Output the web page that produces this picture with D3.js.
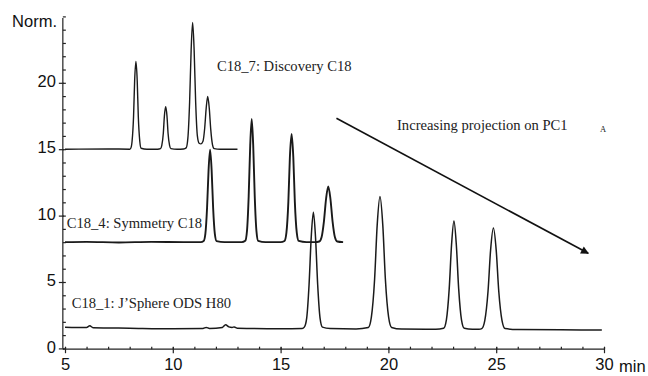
<!DOCTYPE html>
<html>
<head>
<meta charset="utf-8">
<script src="https://cdn.jsdelivr.net/npm/d3@7"></script>
<style>
  body { margin: 0; background: #fff; }
  svg { display: block; }
  .tick text { font-family: "Liberation Sans", Arial, sans-serif; font-size: 16.5px; fill: #111; }
  .note { font-family: "Liberation Serif", "Times New Roman", serif; font-size: 14.6px; fill: #222; }
</style>
</head>
<body>
<svg id="chart" width="648" height="376"></svg>
<script>
// chromatogram traces, [time (min), normalised signal]
const c18_7 = [
  [5.0,15.0],[7.0,15.02],[8.0,15.0],
  [8.05,15.07],[8.11,15.58],[8.18,17.46],[8.23,20.14],[8.29,21.6],[8.35,20.14],[8.40,17.46],[8.47,15.58],[8.53,15.07],
  [8.8,15.0],[9.3,15.0],
  [9.43,15.04],[9.49,15.28],[9.56,16.20],[9.61,17.50],[9.67,18.2],[9.73,17.50],[9.78,16.20],[9.85,15.28],[9.91,15.04],
  [10.2,15.0],[10.5,15.02],
  [10.62,15.10],[10.70,15.85],[10.78,18.56],[10.85,22.44],[10.92,24.55],[10.99,22.44],[11.06,18.56],[11.14,16.0],
  [11.22,15.45],[11.30,15.4],[11.40,15.6],[11.48,16.6],[11.55,18.11],[11.62,18.97],[11.69,18.11],[11.76,16.49],[11.84,15.35],[11.92,15.04],
  [12.2,15.0],[13.0,15.0]
];
const c18_4 = [
  [5.0,8.0],[6.0,8.02],[7.5,7.98],[9.0,8.02],[10.5,8.0],[11.3,8.0],
  [11.43,8.08],[11.51,8.62],[11.59,10.61],[11.66,13.46],[11.73,14.97],[11.80,13.46],[11.87,10.61],[11.95,8.62],[12.03,8.08],
  [12.4,8.0],[13.2,8.0],
  [13.36,8.10],[13.44,8.83],[13.52,11.48],[13.59,15.26],[13.66,17.27],[13.73,15.26],[13.80,11.48],[13.88,8.83],[13.96,8.10],
  [14.3,8.0],[15.0,8.0],
  [15.18,8.09],[15.27,8.72],[15.36,11.05],[15.43,14.37],[15.51,16.14],[15.59,14.37],[15.66,11.05],[15.75,8.72],[15.84,8.09],
  [16.2,8.0],[16.6,8.0],
  [16.79,8.05],[16.90,8.37],[17.01,9.57],[17.11,11.28],[17.21,12.19],[17.31,11.28],[17.41,9.57],[17.52,8.37],[17.63,8.05],[17.9,8.0]
];
const c18_1 = [
  [5.0,1.6],[6.0,1.57],[6.15,1.7],[6.3,1.56],[8.0,1.52],[10.0,1.48],[11.4,1.5],[11.55,1.58],[11.7,1.5],
  [12.3,1.58],[12.45,1.78],[12.6,1.62],[12.75,1.58],[12.85,1.62],[13.0,1.52],[15.0,1.48],[16.0,1.5],
  [16.10,1.60],[16.21,2.28],[16.32,4.79],[16.42,8.36],[16.52,10.26],[16.62,8.36],[16.72,4.79],[16.83,2.28],[16.94,1.60],
  [17.3,1.5],[18.5,1.47],
  [19.07,1.58],[19.21,2.36],[19.36,5.21],[19.48,9.28],[19.61,11.44],[19.74,9.28],[19.86,5.21],[20.01,2.36],[20.15,1.58],
  [20.6,1.46],[22.2,1.44],
  [22.56,1.51],[22.69,2.15],[22.82,4.48],[22.93,7.82],[23.04,9.59],[23.15,7.82],[23.26,4.48],[23.39,2.15],[23.52,1.51],
  [23.9,1.44],[24.2,1.44],
  [24.33,1.49],[24.47,2.09],[24.62,4.28],[24.74,7.40],[24.87,9.06],[25.00,7.40],[25.12,4.28],[25.27,2.09],[25.41,1.49],
  [26.0,1.42],[28.0,1.40],[29.9,1.38]
];

const xTicks = [5, 10, 15, 20, 25, 30];
const yTicks = [0, 5, 10, 15, 20];
const traceNames = ['C18_7: Discovery C18', 'C18_4: Symmetry C18', 'C18_1: J\u2019Sphere ODS H80'];

const svg = d3.select('#chart');
const x = d3.scaleLinear().domain([5, 30]).range([65, 604]);
const y = d3.scaleLinear().domain([0, 25]).range([348.4, 16.4]);

// y axis: major ticks out, minor ticks in
const yAxisX = x(4.9);
svg.append('g')
  .attr('transform', `translate(${yAxisX},0)`)
  .call(d3.axisLeft(y).tickValues(d3.range(0, 26)).tickSize(-3).tickFormat(''))
  .call(g => g.select('.domain').remove());
svg.append('g')
  .attr('transform', `translate(${yAxisX},0)`)
  .call(d3.axisLeft(y).tickValues(yTicks).tickSizeInner(4).tickSizeOuter(0).tickPadding(3))
  .call(g => g.selectAll('.tick line').attr('x2', -4).attr('x1', 1))
  .call(g => g.selectAll('.tick text').attr('dy', '0.22em'))
  .call(g => g.select('.domain').attr('d', `M0,${y(0)}V${y(25) + 1.5}`));

// x axis
svg.append('g')
  .attr('transform', `translate(0,${y(0) + 0.8})`)
  .call(d3.axisBottom(x).tickValues(d3.range(5, 31)).tickSize(-2.5).tickFormat(''))
  .call(g => g.select('.domain').remove());
svg.append('g')
  .attr('transform', `translate(0,${y(0) + 0.8})`)
  .call(d3.axisBottom(x).tickValues(xTicks).tickSizeInner(4).tickSizeOuter(0).tickPadding(5))
  .call(g => g.selectAll('.tick line').attr('y1', -2))
  .call(g => g.select('.domain').attr('d', `M${yAxisX},0H${x(30)}`));

svg.selectAll('.domain, .tick line').attr('stroke', '#222').attr('stroke-width', 1.2);

svg.append('text')
  .attr('x', 57).attr('y', 26.5)
  .attr('text-anchor', 'end')
  .style('font-family', '"Liberation Sans", Arial, sans-serif')
  .style('font-size', '16.5px').attr('fill', '#111')
  .text('Norm.');
svg.append('text')
  .attr('x', 619).attr('y', 372)
  .style('font-family', '"Liberation Sans", Arial, sans-serif')
  .style('font-size', '16.5px').attr('fill', '#111')
  .text('min');

// traces
const line = d3.line()
  .x(d => x(d[0]))
  .y(d => y(d[1]))
  .curve(d3.curveMonotoneX);

[[c18_7, 1.4], [c18_4, 1.9], [c18_1, 1.5]].forEach(([data, w]) => {
  svg.append('path')
    .datum(data)
    .attr('fill', 'none')
    .attr('stroke', '#1a1a1a')
    .attr('stroke-width', w)
    .attr('stroke-linejoin', 'round')
    .attr('d', line);
});

// trace labels
const labelPos = [[12.05, 20.92], [5.08, 9.1], [5.31, 3.01]];
svg.selectAll('text.note.trace')
  .data(traceNames)
  .join('text')
  .attr('class', 'note trace')
  .attr('x', (d, i) => x(labelPos[i][0]))
  .attr('y', (d, i) => y(labelPos[i][1]))
  .text(d => d);

// arrow + annotation
svg.append('defs').append('marker')
  .attr('id', 'head')
  .attr('viewBox', '0 0 10 10')
  .attr('refX', 9).attr('refY', 5)
  .attr('markerWidth', 10).attr('markerHeight', 8)
  .attr('markerUnits', 'userSpaceOnUse')
  .attr('orient', 'auto')
  .append('path')
  .attr('d', 'M0,0L10,5L0,10z')
  .attr('fill', '#111');

svg.append('line')
  .attr('x1', x(17.59)).attr('y1', y(17.33))
  .attr('x2', x(29.27)).attr('y2', y(7.16))
  .attr('stroke', '#111')
  .attr('stroke-width', 1.6)
  .attr('marker-end', 'url(#head)');

svg.append('text')
  .attr('class', 'note')
  .attr('x', 397).attr('y', 130)
  .text('Increasing projection on PC1');
svg.append('text')
  .attr('class', 'note')
  .attr('x', 600).attr('y', 132)
  .style('font-size', '8.5px')
  .text('A');
</script>
</body>
</html>
